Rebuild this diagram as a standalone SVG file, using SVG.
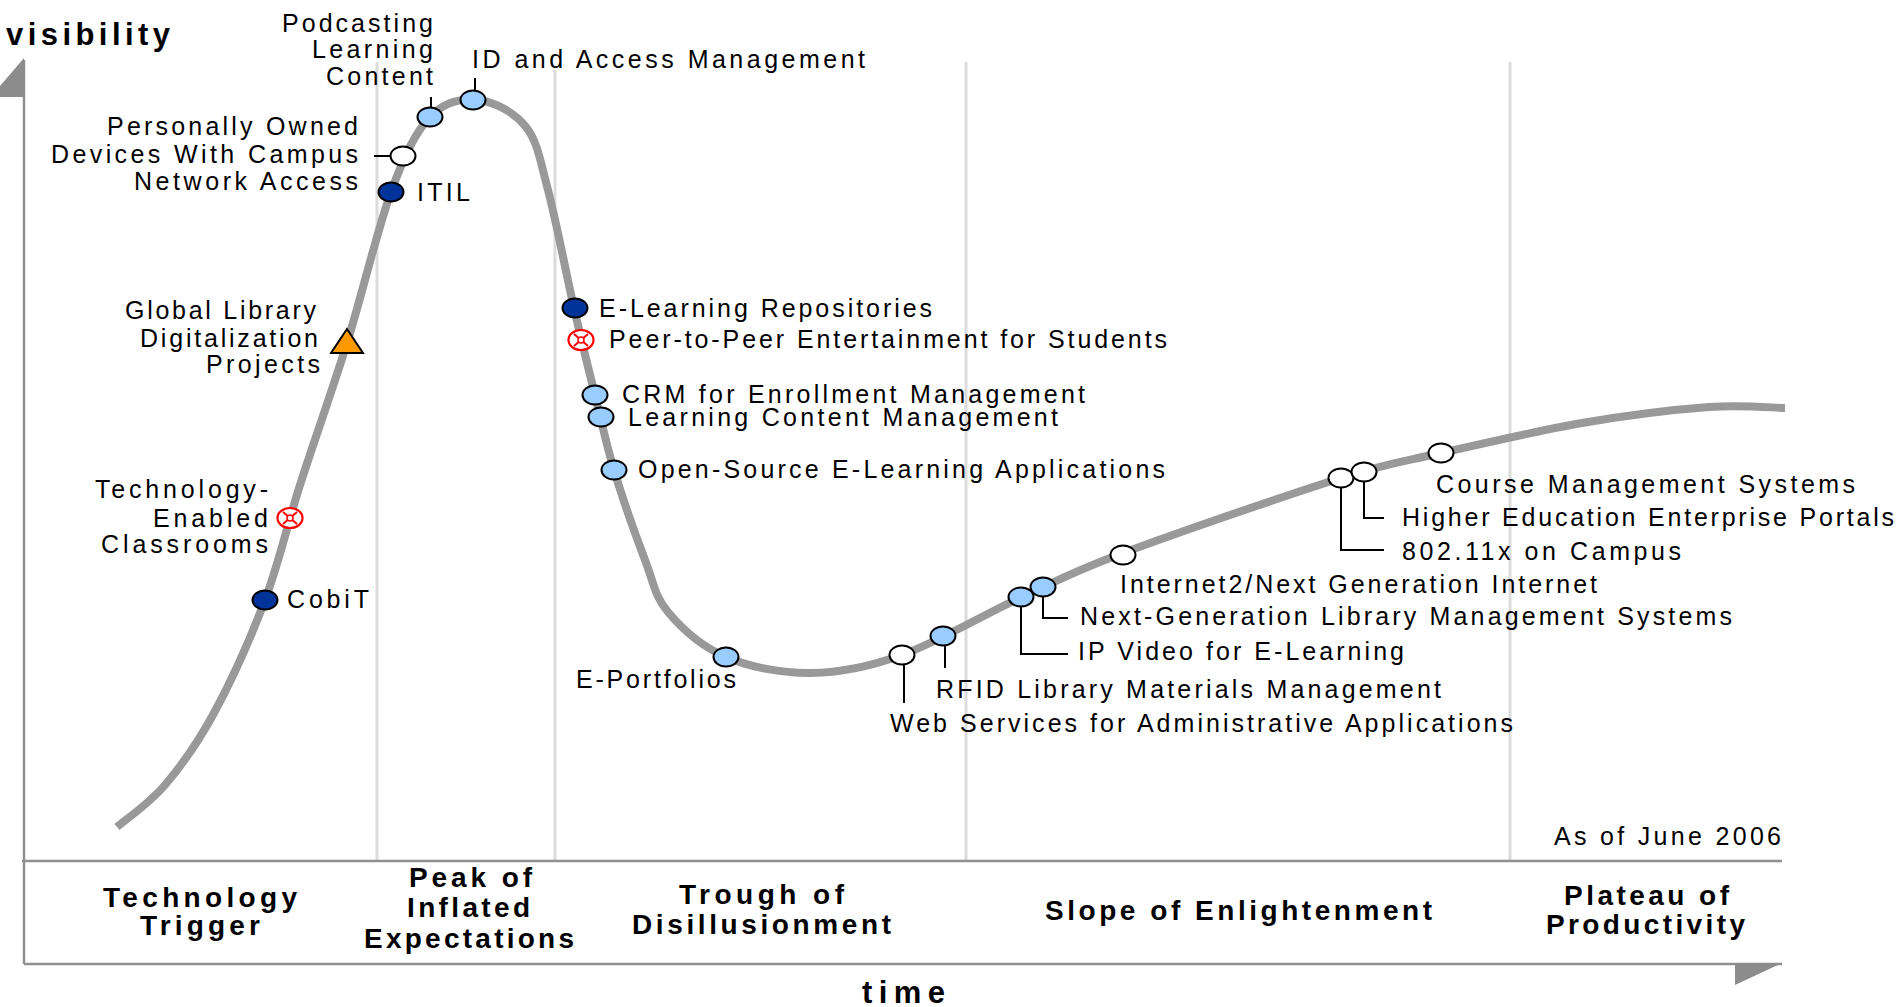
<svg xmlns="http://www.w3.org/2000/svg" xmlns:xlink="http://www.w3.org/1999/xlink" width="1896" height="1007" viewBox="0 0 1896 1007">
<style>
  .t{font-family:"Liberation Sans",Arial,sans-serif;font-size:25px;fill:#000}
  .b{font-family:"Liberation Sans",Arial,sans-serif;font-size:28px;font-weight:bold;fill:#000}
  .ax{font-family:"Liberation Sans",Arial,sans-serif;font-size:31px;font-weight:bold;fill:#000}
  .sep{stroke:#dcdcdc;stroke-width:3;fill:none}
  .axis{stroke:#909090;stroke-width:2.5;fill:none}
  .lead{stroke:#000;stroke-width:2;fill:none}
  .lb{fill:#99ccff}
  .nv{fill:#003399}
  .wh{fill:#ffffff}
</style>
<defs>
  <ellipse id="dot" cx="0" cy="0" rx="12.5" ry="9.5" stroke="#000" stroke-width="2"/>
  <g id="obs">
    <ellipse cx="0" cy="0" rx="12.5" ry="10" fill="#fff" stroke="#ff0000" stroke-width="2.2"/>
    <path d="M-7,-6 L7,6 M-7,6 L7,-6" stroke="#ff0000" stroke-width="2" fill="none"/>
    <circle cx="0" cy="0" r="3" fill="#fff" stroke="#ff0000" stroke-width="1.5"/>
  </g>
</defs>
<rect x="0" y="0" width="1896" height="1007" fill="#ffffff"/>

<g id="axes">
  <line class="sep" x1="377" y1="62" x2="377" y2="860"/>
  <line class="sep" x1="555" y1="70" x2="555" y2="860"/>
  <line class="sep" x1="966" y1="62" x2="966" y2="860"/>
  <line class="sep" x1="1510" y1="62" x2="1510" y2="860"/>
  <line class="axis" x1="24" y1="60" x2="24" y2="964"/>
  <polygon points="24,58 24,97 0,97 0,86" fill="#8c8c8c"/>
  <line class="axis" x1="22" y1="861" x2="1782" y2="861"/>
  <line class="axis" x1="24" y1="964" x2="1782" y2="964"/>
  <polygon points="1735,963 1782,963 1735,985" fill="#8c8c8c"/>
  <text class="ax" x="6" y="45" textLength="164" lengthAdjust="spacing">visibility</text>
  <text class="ax" x="862" y="1003" textLength="83" lengthAdjust="spacing">time</text>
  <text class="t" x="1554" y="845" textLength="227" lengthAdjust="spacing">As of June 2006</text>
</g>

<g id="phases">
  <text class="b" x="103" y="907" textLength="194" lengthAdjust="spacing">Technology</text>
  <text class="b" x="140" y="935" textLength="120" lengthAdjust="spacing">Trigger</text>
  <text class="b" x="409" y="887" textLength="123" lengthAdjust="spacing">Peak of</text>
  <text class="b" x="407" y="917" textLength="123" lengthAdjust="spacing">Inflated</text>
  <text class="b" x="364" y="948" textLength="210" lengthAdjust="spacing">Expectations</text>
  <text class="b" x="679" y="904" textLength="165" lengthAdjust="spacing">Trough of</text>
  <text class="b" x="632" y="934" textLength="259" lengthAdjust="spacing">Disillusionment</text>
  <text class="b" x="1045" y="920" textLength="387" lengthAdjust="spacing">Slope of Enlightenment</text>
  <text class="b" x="1564" y="905" textLength="165" lengthAdjust="spacing">Plateau of</text>
  <text class="b" x="1546" y="934" textLength="199" lengthAdjust="spacing">Productivity</text>
</g>

<g id="curve">
  <path d="M117,827 C125,820 148.8,804 165,785 C181.2,766 197.3,743.8 214,713 C230.7,682.2 250.7,638 265,600 C279.3,562 286.3,527.8 300,485 C313.7,442.2 331.8,391.8 347,343 C362.2,294.2 377.2,229.7 391,192 C404.8,154.3 415.5,132.3 430,117 C444.5,101.7 462,98.3 478,100 C494,101.7 514.3,112 526,127 C537.7,142 540,159.8 548,190 C556,220.2 566.2,273.8 574,308 C581.8,342.2 588.3,368 595,395 C601.7,422 605.7,442.5 614,470 C622.3,497.5 636,536.3 645,560 C654,583.7 654.5,595.8 668,612 C681.5,628.2 702.2,646.8 726,657 C749.8,667.2 781.7,673.3 811,673 C840.3,672.7 867.2,667.5 902,655 C936.8,642.5 983.2,615 1020,598 C1056.8,581 1069.5,573 1123,553 C1176.5,533 1288,494.7 1341,478 C1394,461.3 1400.8,462.2 1441,453 C1481.2,443.8 1537.3,430.7 1582,423 C1626.7,415.3 1675.2,409.5 1709,407 C1742.8,404.5 1772.3,407.8 1785,408" fill="none" stroke="#999999" stroke-width="8"/>
</g>

<g id="connectors">
  <path class="lead" d="M475,78 V91"/>
  <path class="lead" d="M431,97 V108"/>
  <path class="lead" d="M374,156 H391"/>
  <path class="lead" d="M904,664 V703"/>
  <path class="lead" d="M945,645 V668"/>
  <path class="lead" d="M1021,606 V654 H1068"/>
  <path class="lead" d="M1043,596 V618 H1068"/>
  <path class="lead" d="M1341,487 V550 H1384"/>
  <path class="lead" d="M1364,481 V518 H1384"/>
</g>

<g id="node-podcasting">
  <use xlink:href="#dot" x="430" y="117" class="lb"/>
  <text class="t" x="282" y="32" textLength="151" lengthAdjust="spacing">Podcasting</text>
  <text class="t" x="312" y="58" textLength="121" lengthAdjust="spacing">Learning</text>
  <text class="t" x="326" y="85" textLength="107" lengthAdjust="spacing">Content</text>
</g>
<g id="node-id-access">
  <use xlink:href="#dot" x="473" y="100" class="lb"/>
  <text class="t" x="472" y="68" textLength="393" lengthAdjust="spacing">ID and Access Management</text>
</g>
<g id="node-personal-devices">
  <use xlink:href="#dot" x="403" y="156" class="wh"/>
  <text class="t" x="107" y="135" textLength="251" lengthAdjust="spacing">Personally Owned</text>
  <text class="t" x="51" y="163" textLength="307" lengthAdjust="spacing">Devices With Campus</text>
  <text class="t" x="134" y="190" textLength="224" lengthAdjust="spacing">Network Access</text>
</g>
<g id="node-itil">
  <use xlink:href="#dot" x="391" y="192" class="nv"/>
  <text class="t" x="417" y="201" textLength="53" lengthAdjust="spacing">ITIL</text>
</g>
<g id="node-global-library">
  <polygon points="347,329 331,353 363,353" fill="#ff9900" stroke="#000" stroke-width="2"/>
  <text class="t" x="125" y="319" textLength="191" lengthAdjust="spacing">Global Library</text>
  <text class="t" x="140" y="347" textLength="178" lengthAdjust="spacing">Digitalization</text>
  <text class="t" x="206" y="373" textLength="114" lengthAdjust="spacing">Projects</text>
</g>
<g id="node-tech-classrooms">
  <use xlink:href="#obs" x="290" y="518"/>
  <text class="t" x="95" y="498" textLength="173" lengthAdjust="spacing">Technology-</text>
  <text class="t" x="153" y="527" textLength="115" lengthAdjust="spacing">Enabled</text>
  <text class="t" x="101" y="553" textLength="167" lengthAdjust="spacing">Classrooms</text>
</g>
<g id="node-cobit">
  <use xlink:href="#dot" x="265" y="600" class="nv"/>
  <text class="t" x="287" y="608" textLength="82" lengthAdjust="spacing">CobiT</text>
</g>
<g id="node-elearning-repos">
  <use xlink:href="#dot" x="575" y="308" class="nv"/>
  <text class="t" x="599" y="317" textLength="333" lengthAdjust="spacing">E-Learning Repositories</text>
</g>
<g id="node-p2p">
  <use xlink:href="#obs" x="581" y="340"/>
  <text class="t" x="609" y="348" textLength="558" lengthAdjust="spacing">Peer-to-Peer Entertainment for Students</text>
</g>
<g id="node-crm">
  <use xlink:href="#dot" x="595" y="395" class="lb"/>
  <text class="t" x="622" y="403" textLength="463" lengthAdjust="spacing">CRM for Enrollment Management</text>
</g>
<g id="node-lcm">
  <use xlink:href="#dot" x="601" y="417" class="lb"/>
  <text class="t" x="628" y="426" textLength="430" lengthAdjust="spacing">Learning Content Management</text>
</g>
<g id="node-open-source">
  <use xlink:href="#dot" x="614" y="470" class="lb"/>
  <text class="t" x="638" y="478" textLength="527" lengthAdjust="spacing">Open-Source E-Learning Applications</text>
</g>
<g id="node-eportfolios">
  <use xlink:href="#dot" x="726" y="657" class="lb"/>
  <text class="t" x="576" y="688" textLength="160" lengthAdjust="spacing">E-Portfolios</text>
</g>
<g id="node-web-services">
  <use xlink:href="#dot" x="902" y="655" class="wh"/>
  <text class="t" x="890" y="732" textLength="623" lengthAdjust="spacing">Web Services for Administrative Applications</text>
</g>
<g id="node-rfid">
  <use xlink:href="#dot" x="943" y="636" class="lb"/>
  <text class="t" x="936" y="698" textLength="505" lengthAdjust="spacing">RFID Library Materials Management</text>
</g>
<g id="node-ip-video">
  <use xlink:href="#dot" x="1021" y="597" class="lb"/>
  <text class="t" x="1078" y="660" textLength="326" lengthAdjust="spacing">IP Video for E-Learning</text>
</g>
<g id="node-nextgen-library">
  <use xlink:href="#dot" x="1043" y="587" class="lb"/>
  <text class="t" x="1080" y="625" textLength="652" lengthAdjust="spacing">Next-Generation Library Management Systems</text>
</g>
<g id="node-internet2">
  <use xlink:href="#dot" x="1123" y="555" class="wh"/>
  <text class="t" x="1120" y="593" textLength="477" lengthAdjust="spacing">Internet2/Next Generation Internet</text>
</g>
<g id="node-80211x">
  <use xlink:href="#dot" x="1341" y="478" class="wh"/>
  <text class="t" x="1402" y="560" textLength="279" lengthAdjust="spacing">802.11x on Campus</text>
</g>
<g id="node-portals">
  <use xlink:href="#dot" x="1364" y="472" class="wh"/>
  <text class="t" x="1402" y="526" textLength="492" lengthAdjust="spacing">Higher Education Enterprise Portals</text>
</g>
<g id="node-course-mgmt">
  <use xlink:href="#dot" x="1441" y="453" class="wh"/>
  <text class="t" x="1436" y="493" textLength="419" lengthAdjust="spacing">Course Management Systems</text>
</g>
</svg>
